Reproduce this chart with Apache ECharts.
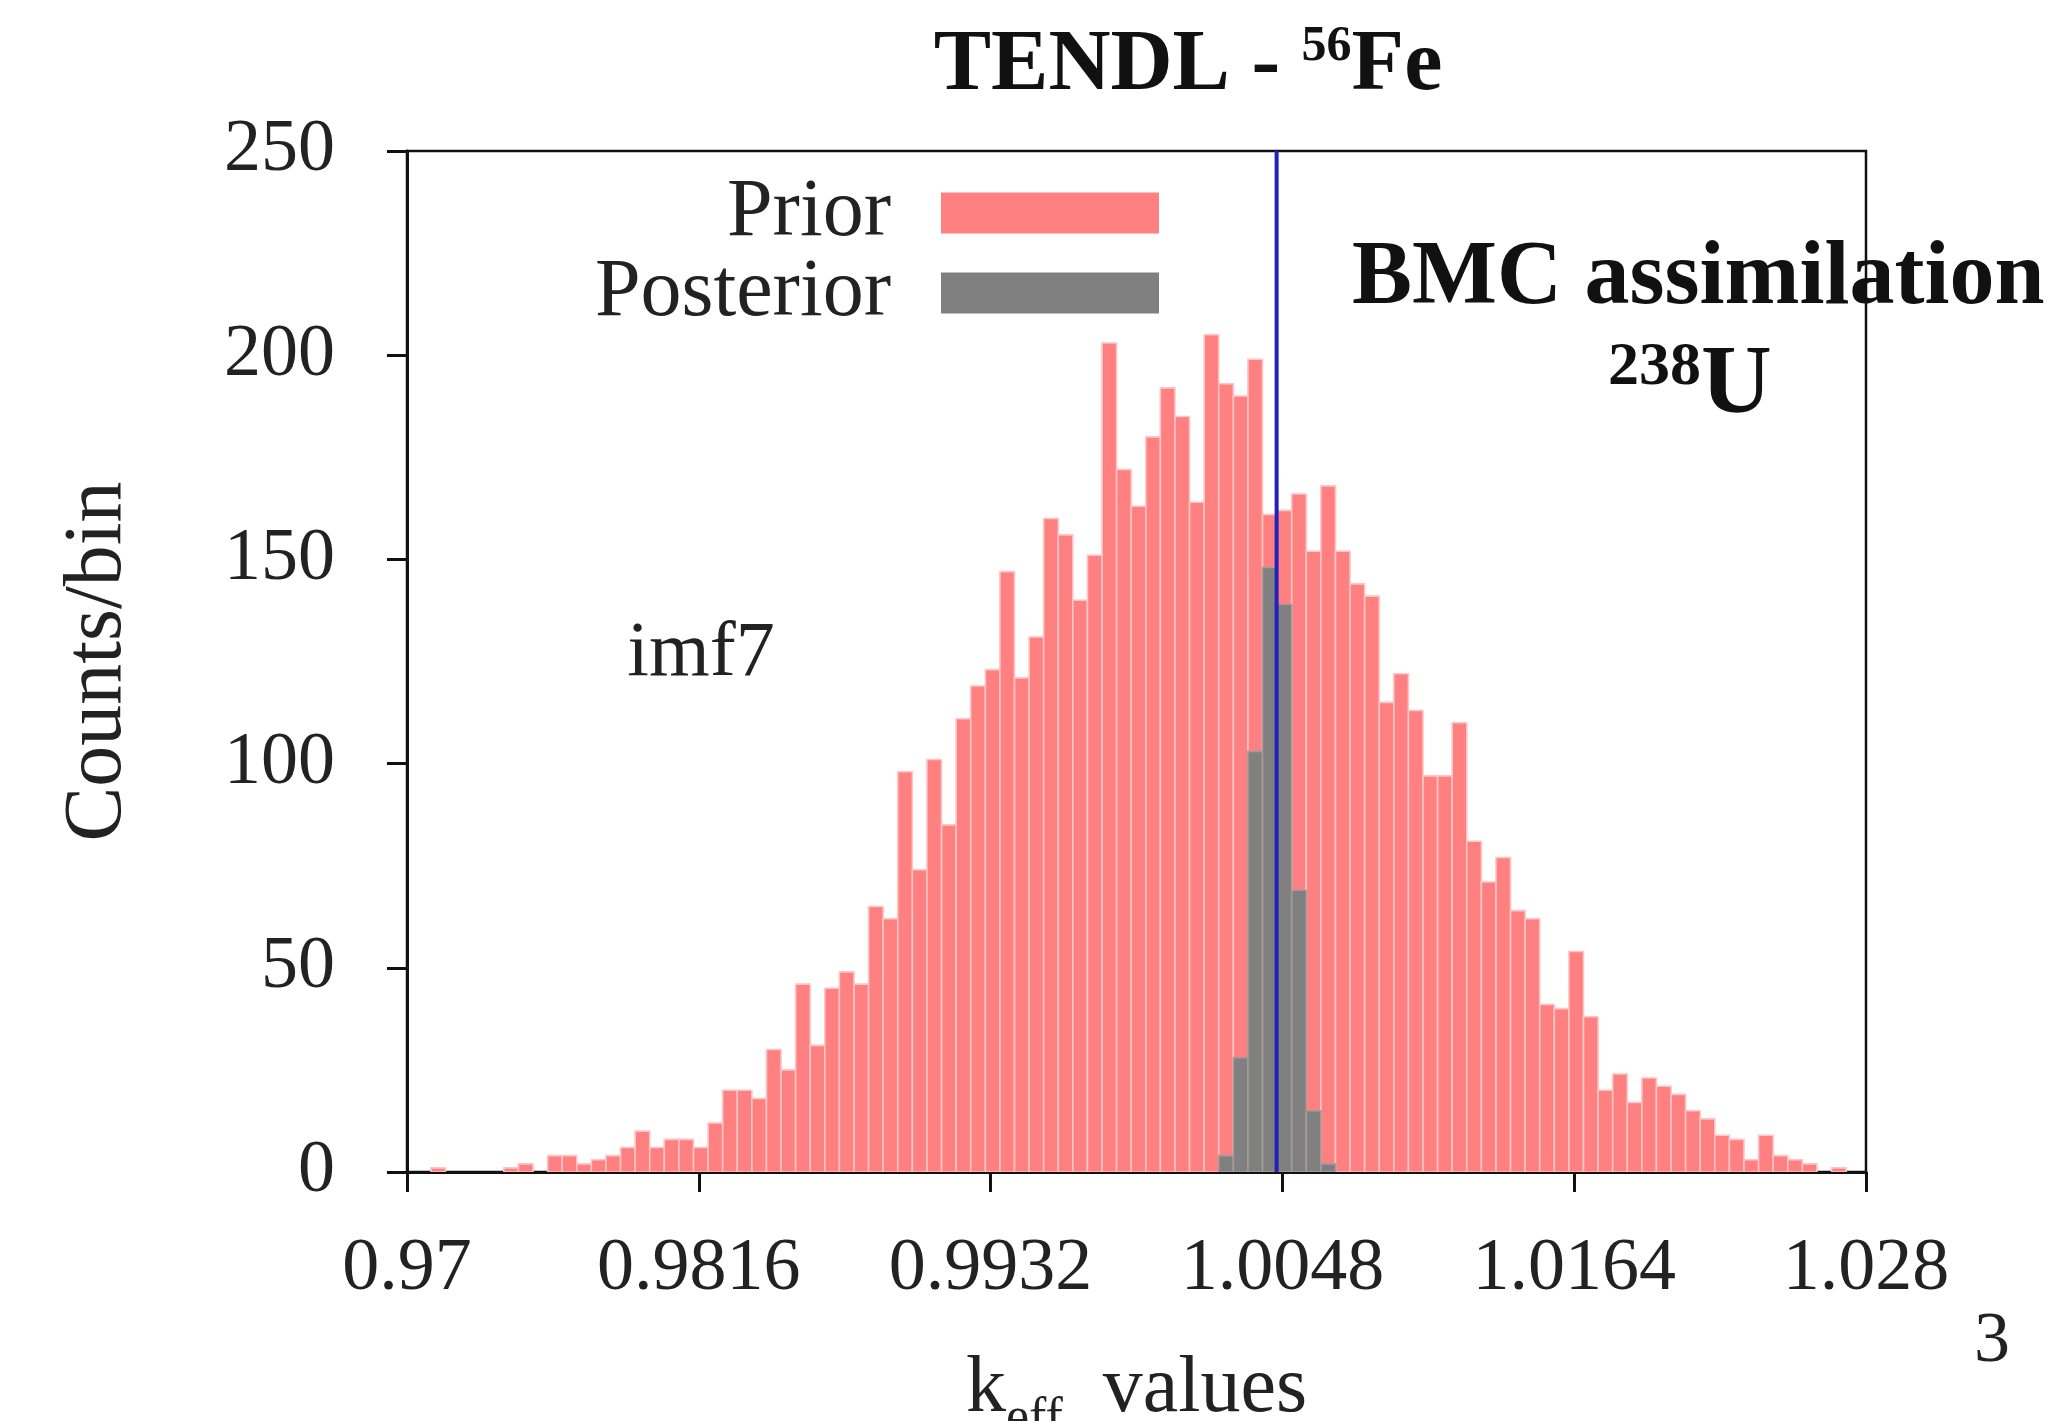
<!DOCTYPE html>
<html><head><meta charset="utf-8">
<script src="https://cdn.jsdelivr.net/npm/echarts@6/dist/echarts.min.js"></script>
<style>html,body{margin:0;padding:0;background:#fff}#c{width:2055px;height:1421px}</style>
</head><body><div id="c"></div>
<script>
// ---- data ----
const binStart = 0.97037;          // left edge of first bin (k_eff)
const binWidth = 0.00058;          // bin width (k_eff)
const priorCounts = [
  0, 1, 0, 0, 0, 0, 1, 2, 0, 4,
  4, 2, 3, 4, 6, 10, 6, 8, 8, 6,
  12, 20, 20, 18, 30, 25, 46, 31, 45, 49,
  46, 65, 62, 98, 74, 101, 85, 111, 119, 123,
  147, 121, 131, 160, 156, 140, 151, 203, 172, 163,
  180, 192, 185, 164, 205, 193, 190, 199, 161, 162,
  166, 152, 168, 152, 144, 141, 115, 122, 113, 97,
  97, 110, 81, 71, 77, 64, 62, 41, 40, 54,
  38, 20, 24, 17, 23, 21, 19, 15, 13, 9,
  8, 3, 9, 4, 3, 2, 0, 1, 0
];
const posteriorStartBin = 55;
const posteriorCounts = [4, 28, 103, 148, 139, 69, 15, 2];
const referenceValue = 1.00457;
const xTickValues = [0.97, 0.9816, 0.9932, 1.0048, 1.0164, 1.028];
const xTickLabels = ['0.97', '0.9816', '0.9932', '1.0048', '1.0164', '1.028'];
const yMin = 0, yMax = 250, yStep = 50;

// ---- build ----
const serif = '"Liberation Serif", "DejaVu Serif", serif';
const priorData = priorCounts.map((c, i) => [binStart + i * binWidth, binStart + (i + 1) * binWidth, c]);
const posteriorData = posteriorCounts.map((c, j) => {
  const i = posteriorStartBin + j;
  return [binStart + i * binWidth, binStart + (i + 1) * binWidth, c];
});

function makeRender(fill, stroke) {
  return function (params, api) {
    const x0 = api.value(0), x1 = api.value(1), y = api.value(2);
    if (!y) return null;
    const p0 = api.coord([x0, y]);
    const p1 = api.coord([x1, 0]);
    return {
      type: 'rect',
      shape: { x: p0[0], y: p0[1], width: p1[0] - p0[0], height: p1[1] - p0[1] },
      style: { fill: fill, stroke: stroke, lineWidth: 1.6 }
    };
  };
}

const chart = echarts.init(document.getElementById('c'), null, { renderer: 'canvas' });
chart.setOption({
  animation: false,
  backgroundColor: '#ffffff',
  grid: {
    left: 407, right: 189, top: 151, bottom: 249,
    outerBoundsMode: 'none', containLabel: false,
    show: true, borderColor: '#111', borderWidth: 2.5, backgroundColor: 'transparent'
  },
  legend: {
    data: ['Prior', 'Posterior'],
    orient: 'vertical', align: 'right',
    right: 896, top: 172, padding: 0,
    itemWidth: 218, itemHeight: 41, itemGap: -2,
    icon: 'rect', selectedMode: false,
    textStyle: { fontFamily: serif, fontSize: 82, color: '#222', lineHeight: 60, padding: [0, 45, 0, 0] }
  },
  xAxis: {
    type: 'value', min: 0.97, max: 1.028,
    name: '{k|k}{s|eff}{k|  values}',
    nameLocation: 'middle', nameGap: 163,
    nameTextStyle: {
      rich: {
        k: { fontFamily: serif, fontSize: 80, color: '#222', lineHeight: 110 },
        s: { fontFamily: serif, fontSize: 52, color: '#222', lineHeight: 110, verticalAlign: 'bottom' }
      }
    },
    axisLine: { show: true, onZero: false, lineStyle: { color: '#111', width: 3 } },
    axisTick: { show: true, length: 20, customValues: xTickValues, lineStyle: { color: '#111', width: 3 } },
    axisLabel: {
      customValues: xTickValues, margin: 98, verticalAlign: 'middle',
      fontFamily: serif, fontSize: 74, color: '#222',
      formatter: function (v) {
        for (let i = 0; i < xTickValues.length; i++) if (Math.abs(v - xTickValues[i]) < 1e-9) return xTickLabels[i];
        return '';
      }
    },
    splitLine: { show: false }
  },
  yAxis: {
    type: 'value', min: yMin, max: yMax, interval: yStep,
    name: 'Counts/bin', nameLocation: 'middle', nameGap: 268, nameRotate: 90,
    nameTextStyle: { fontFamily: serif, fontSize: 82, color: '#222' },
    axisLine: { show: true, lineStyle: { color: '#111', width: 3 } },
    axisTick: { show: true, length: 20, lineStyle: { color: '#111', width: 3 } },
    axisLabel: { margin: 72, fontFamily: serif, fontSize: 74, color: '#222' },
    splitLine: { show: false }
  },
  series: [
    {
      name: 'Prior', type: 'custom', z: 2, clip: true,
      itemStyle: { color: '#ff8080' },
      renderItem: makeRender('#ff8080', '#ffc4c4'),
      encode: { x: [0, 1], y: 2 },
      data: priorData
    },
    {
      name: 'Posterior', type: 'custom', z: 3, clip: true,
      itemStyle: { color: '#808080' },
      renderItem: makeRender('#808080', '#a89a9a'),
      encode: { x: [0, 1], y: 2 },
      data: posteriorData
    },
    {
      name: 'reference', type: 'line', z: 4, silent: true,
      symbol: 'none',
      lineStyle: { color: '#2222b8', width: 4 },
      data: [[referenceValue, yMin], [referenceValue, yMax]]
    }
  ],
  graphic: [
    {
      type: 'text', x: 1188, y: 67, z: 10,
      style: {
        text: '{a|TENDL - }{s|56}{a|Fe}', align: 'center', verticalAlign: 'middle',
        rich: {
          a: { fontFamily: serif, fontWeight: 'bold', fontSize: 86, fill: '#111', lineHeight: 90 },
          s: { fontFamily: serif, fontWeight: 'bold', fontSize: 50, fill: '#111', lineHeight: 90, verticalAlign: 'top' }
        }
      }
    },
    {
      type: 'text', x: 1352, y: 280, z: 10,
      style: { text: 'BMC assimilation', align: 'left', verticalAlign: 'middle', fontFamily: serif, fontWeight: 'bold', fontSize: 90, fill: '#111' }
    },
    {
      type: 'text', x: 1690, y: 387, z: 10,
      style: {
        text: '{s|238}{u|U}', align: 'center', verticalAlign: 'middle',
        rich: {
          s: { fontFamily: serif, fontWeight: 'bold', fontSize: 62, fill: '#111', lineHeight: 100, verticalAlign: 'top' },
          u: { fontFamily: serif, fontWeight: 'bold', fontSize: 98, fill: '#111', lineHeight: 100 }
        }
      }
    },
    {
      type: 'text', x: 701, y: 655, z: 10,
      style: { text: 'imf7', align: 'center', verticalAlign: 'middle', fontFamily: serif, fontSize: 78, fill: '#222' }
    },
    {
      type: 'text', x: 1992, y: 1342, z: 10,
      style: { text: '3', align: 'center', verticalAlign: 'middle', fontFamily: serif, fontSize: 72, fill: '#222' }
    }
  ]
});
</script>
</body></html>
